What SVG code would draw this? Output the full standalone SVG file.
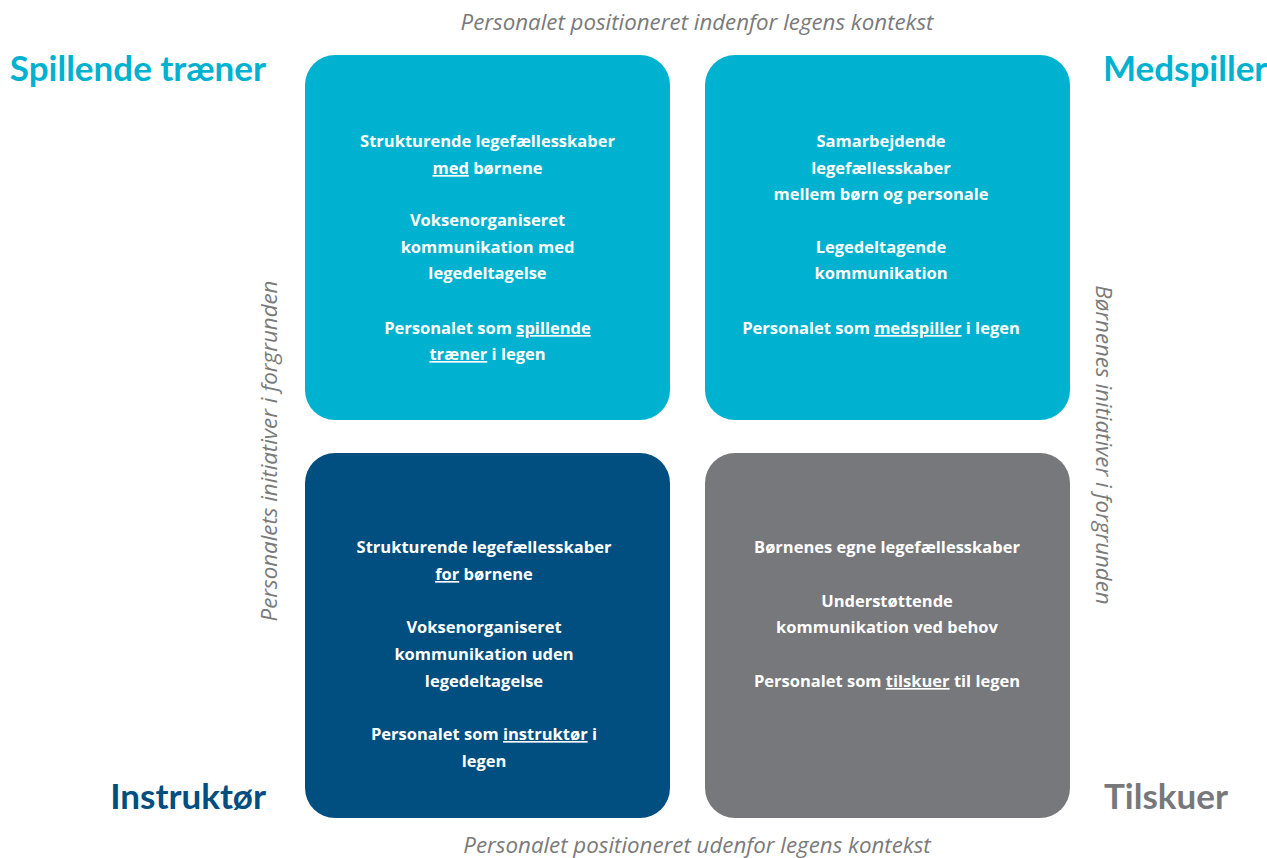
<svg xmlns="http://www.w3.org/2000/svg" width="1267" height="858" viewBox="0 0 1267 858">
<style>
.box-text{font-family:"Open Sans","Liberation Sans",sans-serif;font-weight:700;font-size:16.5px;fill:#ffffff;text-anchor:middle}
.u{text-decoration:underline}
.axis{font-family:"Open Sans","Liberation Sans",sans-serif;font-style:italic;font-weight:400;font-size:22.3px;fill:#7a7a7a;text-anchor:middle}
.title{font-family:Lato,"Liberation Sans",sans-serif;font-weight:700;font-size:35px}
</style>
<rect width="1267" height="858" fill="#ffffff"/>
<g id="axis-labels">
<text class="axis" x="697" y="30">Personalet positioneret indenfor legens kontekst</text>
<text class="axis" x="697" y="853">Personalet positioneret udenfor legens kontekst</text>
<text class="axis" transform="translate(277,451) rotate(-90)">Personalets initiativer i forgrunden</text>
<text class="axis" transform="translate(1096,445) rotate(90)">Børnenes initiativer i forgrunden</text>
</g>
<g id="titles">
<text class="title" x="266" y="81" text-anchor="end" fill="#00b2cf">Spillende træner</text>
<text class="title" x="1103" y="81" fill="#00b2cf">Medspiller</text>
<text class="title" x="266" y="809" text-anchor="end" fill="#004f80">Instruktør</text>
<text class="title" x="1104" y="809" fill="#77787b">Tilskuer</text>
</g>
<g id="node-spillende-traener">
<rect x="305" y="55" width="365" height="365" rx="30" fill="#00b2cf"/>
<text class="box-text" x="487.5" y="147">Strukturende legefællesskaber</text>
<text class="box-text" x="487.5" y="174"><tspan class="u">med</tspan> børnene</text>
<text class="box-text" x="487.5" y="226">Voksenorganiseret</text>
<text class="box-text" x="487.5" y="253">kommunikation med</text>
<text class="box-text" x="487.5" y="279">legedeltagelse</text>
<text class="box-text" x="487.5" y="334">Personalet som <tspan class="u">spillende </tspan></text>
<text class="box-text" x="487.5" y="360"><tspan class="u">træner</tspan> i legen</text>
</g>
<g id="node-medspiller">
<rect x="705" y="55" width="365" height="365" rx="30" fill="#00b2cf"/>
<text class="box-text" x="881" y="147">Samarbejdende</text>
<text class="box-text" x="881" y="174">legefællesskaber</text>
<text class="box-text" x="881" y="200">mellem børn og personale</text>
<text class="box-text" x="881" y="253">Legedeltagende</text>
<text class="box-text" x="881" y="279">kommunikation</text>
<text class="box-text" x="881" y="334">Personalet som <tspan class="u">medspiller</tspan> i legen</text>
</g>
<g id="node-instruktoer">
<rect x="305" y="453" width="365" height="365" rx="30" fill="#004f80"/>
<text class="box-text" x="484" y="553">Strukturende legefællesskaber</text>
<text class="box-text" x="484" y="580"><tspan class="u">for</tspan> børnene</text>
<text class="box-text" x="484" y="633">Voksenorganiseret</text>
<text class="box-text" x="484" y="660">kommunikation uden</text>
<text class="box-text" x="484" y="687">legedeltagelse</text>
<text class="box-text" x="484" y="740">Personalet som <tspan class="u">instruktør</tspan> i</text>
<text class="box-text" x="484" y="767">legen</text>
</g>
<g id="node-tilskuer">
<rect x="705" y="453" width="365" height="365" rx="30" fill="#77787b"/>
<text class="box-text" x="887" y="553">Børnenes egne legefællesskaber</text>
<text class="box-text" x="887" y="607">Understøttende</text>
<text class="box-text" x="887" y="633">kommunikation ved behov</text>
<text class="box-text" x="887" y="687">Personalet som <tspan class="u">tilskuer</tspan> til legen</text>
</g>
<g id="connectors"></g>
</svg>
